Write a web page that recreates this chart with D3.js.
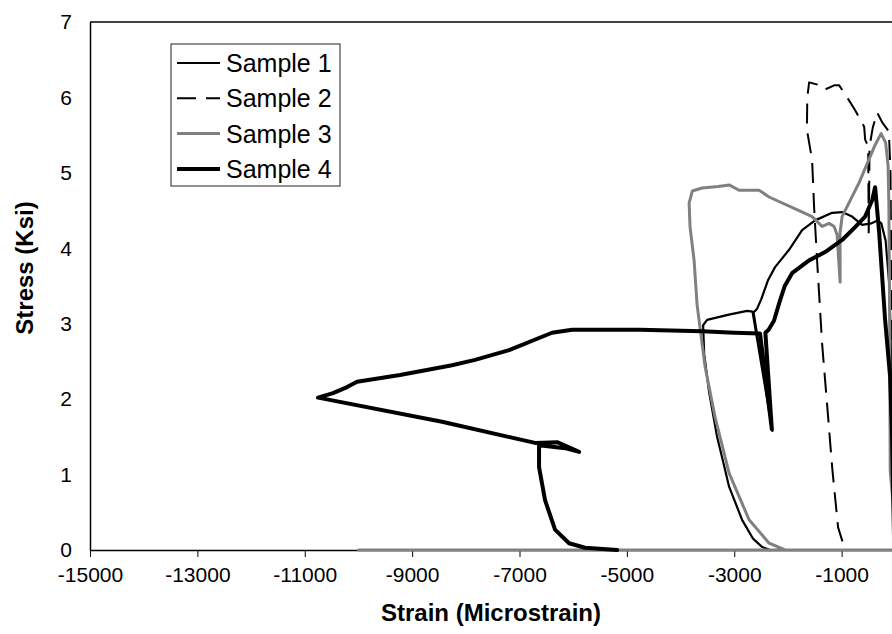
<!DOCTYPE html>
<html>
<head>
<meta charset="utf-8">
<script src="https://cdn.jsdelivr.net/npm/d3@7"></script>
<style>
  html, body { margin: 0; padding: 0; background: #fff; overflow: hidden; }
  svg { display: block; font-family: "Liberation Sans", Arial, sans-serif; }
</style>
</head>
<body>
<svg id="chart" width="892" height="634"></svg>
<script>
// ---- Data (strain in microstrain, stress in ksi) ----
const xTicks = [-15000, -13000, -11000, -9000, -7000, -5000, -3000, -1000];
const yTicks = [0, 1, 2, 3, 4, 5, 6, 7];
const seriesNames = ["Sample 1", "Sample 2", "Sample 3", "Sample 4"];

const sample1 = [
  [-20,0],[-60,2.0],[-110,3.5],[-180,4.1],[-260,4.33],[-330,4.37],[-450,4.33],[-619,4.31],
  [-805,4.42],[-991,4.48],[-1177,4.47],[-1494,4.37],[-1736,4.24],[-1979,3.98],[-2240,3.75],
  [-2369,3.58],[-2500,3.32],[-2574,3.2],[-2640,3.15],[-2290,1.58],[-2660,3.16],[-2760,3.17],
  [-3100,3.12],[-3506,3.05],[-3580,2.98],[-3560,2.6],[-3470,2.1],[-3320,1.5],[-3200,1.15],
  [-3096,0.84],[-2854,0.4],[-2650,0.15],[-2481,0.04],[-2332,0.0]
];
const sample2 = [
  [-20,0],[-60,2.5],[-90,5.0],[-120,5.55],[-245,5.67],[-338,5.8],[-420,5.6],[-480,5.35],
  [-495,4.15],[-505,5.35],[-562,5.44],[-580,5.61],[-748,5.83],[-897,6.0],[-1046,6.16],
  [-1139,6.16],[-1325,6.1],[-1450,6.17],[-1605,6.2],[-1640,6.0],[-1646,5.57],[-1550,5.17],
  [-1513,4.55],[-1457,3.84],[-1401,3.18],[-1364,2.74],[-1250,1.75],[-1177,1.1],[-1066,0.3],
  [-935,0.0]
];
const sample3 = [
  [-10000,0],[0,0],[-40,0.6],[-95,1.05],[-105,3.0],[-120,4.6],[-135,5.1],[-180,5.4],
  [-265,5.52],[-376,5.37],[-674,4.87],[-991,4.42],[-1030,4.2],[-1028,3.55],[-1084,4.18],
  [-1140,4.29],[-1233,4.33],[-1364,4.29],[-1550,4.42],[-1792,4.5],[-2352,4.68],[-2537,4.77],
  [-2910,4.77],[-3096,4.84],[-3300,4.82],[-3599,4.8],[-3780,4.76],[-3841,4.6],[-3823,4.28],
  [-3748,3.84],[-3692,3.25],[-3543,2.43],[-3357,1.76],[-3096,1.02],[-2723,0.4],[-2350,0.09],
  [-2053,0.0]
];
const sample4 = [
  [-20,0],[-60,1.5],[-97,2.3],[-190,3.05],[-300,4.2],[-376,4.81],[-430,4.64],[-563,4.42],
  [-749,4.28],[-991,4.11],[-1308,3.95],[-1606,3.84],[-1923,3.67],[-2060,3.5],[-2160,3.28],
  [-2260,3.04],[-2360,2.92],[-2420,2.88],[-2300,1.6],[-2520,2.87],[-3000,2.88],[-3600,2.9],
  [-4754,2.92],[-6021,2.92],[-6394,2.88],[-7194,2.65],[-7828,2.52],[-8256,2.45],[-9225,2.32],
  [-10026,2.23],[-10212,2.16],[-10473,2.08],[-10753,2.02],[-8443,1.70],[-6710,1.42],
  [-6300,1.43],[-5890,1.3],[-6151,1.35],[-6636,1.39],[-6636,1.1],[-6524,0.66],[-6338,0.27],
  [-6077,0.09],[-5779,0.03],[-5182,0.0]
];

const seriesData = [sample1, sample2, sample3, sample4];
const seriesColors = ["#000000", "#000000", "#808080", "#000000"];
const seriesWidths = [2.2, 2, 3, 4];
const seriesDash = [null, "20,10", null, null];

// ---- Layout ----
const svg = d3.select("#chart");
const mLeft = 90, mTop = 22, mBottom = 550, mRight = 949;

const x = d3.scaleLinear().domain([-15000, 1000]).range([mLeft, mRight]);
const y = d3.scaleLinear().domain([0, 7]).range([mBottom, mTop]);

// top border of plot area
svg.append("line")
  .attr("x1", mLeft).attr("x2", mRight)
  .attr("y1", y(7)).attr("y2", y(7))
  .attr("stroke", "#000").attr("stroke-width", 1.5);

// X axis
const xAxis = svg.append("g")
  .attr("transform", `translate(0,${mBottom})`)
  .call(d3.axisBottom(x).tickValues(xTicks).tickSize(7).tickSizeOuter(0)
        .tickPadding(10).tickFormat(d => String(d)));
xAxis.select(".domain").attr("stroke", "#000").attr("stroke-width", 1.5);
xAxis.selectAll(".tick line").attr("stroke", "#000").attr("stroke-width", 1);
xAxis.selectAll(".tick text").attr("font-size", 21).attr("fill", "#000")
  .attr("font-family", "Liberation Sans, Arial, sans-serif");

// Y axis
const yAxis = svg.append("g")
  .attr("transform", `translate(${mLeft},0)`)
  .call(d3.axisLeft(y).tickValues(yTicks).tickSize(0).tickSizeOuter(0)
        .tickPadding(18).tickFormat(d => String(d)));
yAxis.select(".domain").attr("stroke", "#000").attr("stroke-width", 1.5);
yAxis.selectAll(".tick text").attr("font-size", 21).attr("fill", "#000")
  .attr("font-family", "Liberation Sans, Arial, sans-serif");

// Series lines
const line = d3.line().x(d => x(d[0])).y(d => y(d[1]));
const plot = svg.append("g");
seriesData.forEach((data, i) => {
  const p = plot.append("path")
    .datum(data)
    .attr("d", line)
    .attr("fill", "none")
    .attr("stroke", seriesColors[i])
    .attr("stroke-width", seriesWidths[i])
    .attr("stroke-linejoin", "round")
    .attr("stroke-linecap", seriesDash[i] ? "butt" : "round");
  if (seriesDash[i]) p.attr("stroke-dasharray", seriesDash[i]);
});

// Axis titles
svg.append("text")
  .attr("x", 491).attr("y", 621)
  .attr("text-anchor", "middle")
  .attr("font-size", 24).attr("font-weight", "bold")
  .text("Strain (Microstrain)");
svg.append("text")
  .attr("transform", "translate(33,268) rotate(-90)")
  .attr("text-anchor", "middle")
  .attr("font-size", 24).attr("font-weight", "bold")
  .text("Stress (Ksi)");

// Legend
const lg = svg.append("g");
lg.append("rect")
  .attr("x", 171).attr("y", 44).attr("width", 169).attr("height", 142)
  .attr("fill", "#fff").attr("stroke", "#222").attr("stroke-width", 1);
seriesNames.forEach((name, i) => {
  const yy = 63 + i * 35.3;
  const l = lg.append("line")
    .attr("x1", 177).attr("x2", 220).attr("y1", yy).attr("y2", yy)
    .attr("stroke", seriesColors[i]).attr("stroke-width", seriesWidths[i]);
  if (seriesDash[i]) l.attr("stroke-dasharray", "19,10");
  lg.append("text")
    .attr("x", 226).attr("y", yy)
    .attr("dy", "0.36em")
    .attr("font-size", 25)
    .text(name);
});
</script>
</body>
</html>
